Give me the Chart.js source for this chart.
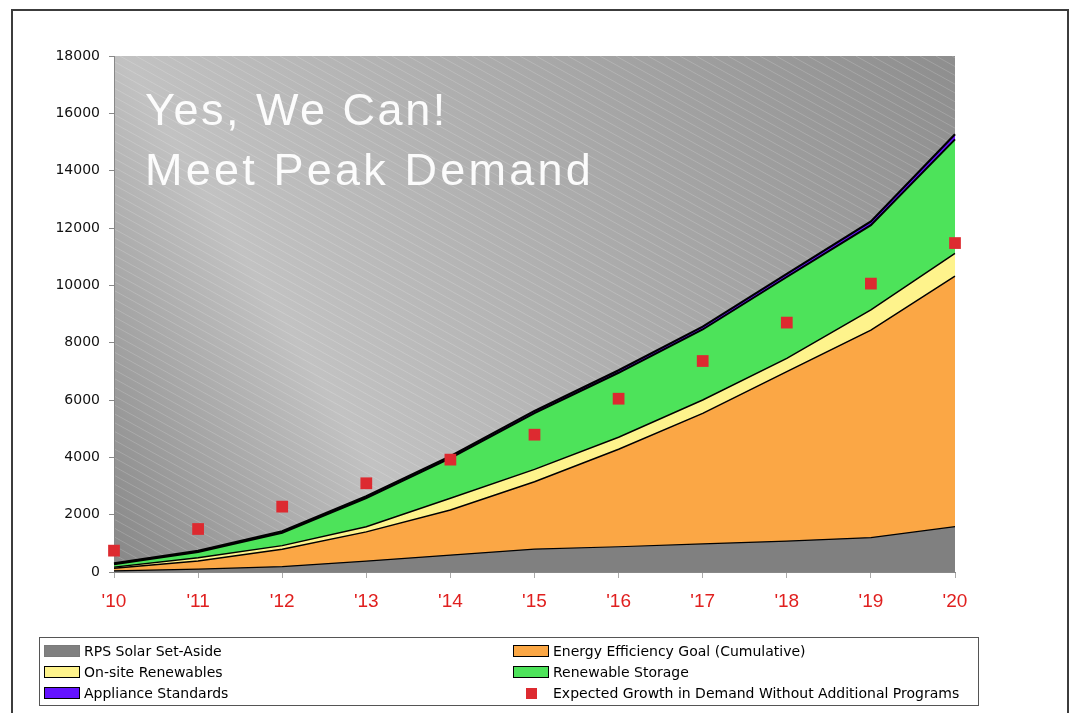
<!DOCTYPE html>
<html>
<head>
<meta charset="utf-8">
<script src="https://cdn.jsdelivr.net/npm/chart.js@4"></script>
<style>
  body { margin: 0; background: #fff; }
  #wrap { position: relative; width: 1070px; height: 713px; overflow: hidden; }
  #frame { position: absolute; left: 11px; top: 9px; width: 1058px; height: 730px; border: 2px solid #3c3c3c; box-sizing: border-box; }
  #chart { position: absolute; left: 0; top: 0; }
  #legend {
    position: absolute; left: 39px; top: 637px; width: 940px; height: 69px;
    border: 1px solid #555; box-sizing: border-box; padding-top: 2px;
    display: grid; grid-template-columns: 469px 1fr; grid-auto-rows: 21.3px;
    font: 14px "DejaVu Sans", sans-serif; color: #000;
  }
  .item { display: flex; align-items: center; padding-left: 4px; white-space: nowrap; }
  .swatch { width: 36px; height: 12px; box-sizing: border-box; border: 1px solid #000; margin-right: 4px; flex: none; }
  .dot { width: 36px; height: 12px; margin-right: 4px; flex: none; display: flex; justify-content: center; align-items: center; }
  .dot span { width: 11px; height: 11px; display: block; }
</style>
</head>
<body>
<div id="wrap">
  <div id="frame"></div>
  <canvas id="chart" width="1070" height="713"></canvas>
  <div id="legend"></div>
</div>
<script>
// Data (MW, stacked layers)
const years = ["'10", "'11", "'12", "'13", "'14", "'15", "'16", "'17", "'18", "'19", "'20"];
const rpsSolar = [40, 100, 190, 380, 590, 800, 880, 980, 1080, 1200, 1580];
const energyEfficiency = [90, 280, 600, 1020, 1570, 2350, 3400, 4555, 5910, 7240, 8740];
const onsiteRenewables = [40, 120, 130, 180, 410, 430, 420, 465, 460, 700, 795];
const renewableStorage = [100, 200, 450, 1000, 1400, 1960, 2250, 2460, 2840, 2960, 3975];
const applianceStandards = [30, 40, 50, 60, 70, 80, 90, 100, 110, 130, 180];
const expectedGrowth = [745, 1500, 2280, 3095, 3920, 4790, 6045, 7360, 8700, 10060, 11475];

const yTicks = { min: 0, max: 18000, step: 2000 };

// Plot backdrop: diagonal grey gradient with thin white hatching, plus the slogan
const backdrop = {
  id: 'backdrop',
  beforeDraw(chart) {
    const { ctx, chartArea: a } = chart;
    const w = a.right - a.left;
    const h = a.bottom - a.top;
    ctx.save();
    const g = ctx.createLinearGradient(a.left, a.bottom, a.right, a.top);
    g.addColorStop(0, '#868686');
    g.addColorStop(0.28, '#c2c2c2');
    g.addColorStop(1, '#8e8e8e');
    ctx.fillStyle = g;
    ctx.fillRect(a.left, a.top, w, h);

    ctx.beginPath();
    ctx.rect(a.left, a.top, w, h);
    ctx.clip();
    ctx.beginPath();
    const run = h / 0.55;
    for (let x = a.left - run; x < a.right; x += 16) {
      ctx.moveTo(x, a.top);
      ctx.lineTo(x + run, a.bottom);
    }
    ctx.strokeStyle = 'rgba(255, 255, 255, 0.22)';
    ctx.lineWidth = 0.8;
    ctx.stroke();
    ctx.restore();
  },
  beforeDatasetsDraw(chart) {
    const { ctx, chartArea: a } = chart;
    ctx.save();
    ctx.font = '45px "Liberation Sans", Arial, sans-serif';
    ctx.fillStyle = 'rgba(255, 255, 255, 0.95)';
    ctx.textBaseline = 'alphabetic';
    ctx.letterSpacing = '2.5px';
    ctx.fillText('Yes, We Can!', a.left + 31, a.top + 69);
    ctx.letterSpacing = '3.2px';
    ctx.fillText('Meet Peak Demand', a.left + 31, a.top + 129);
    ctx.restore();
  }
};

const areaBase = {
  borderColor: '#000',
  borderWidth: 1.5,
  pointRadius: 0,
  tension: 0,
  fill: '-1',
  order: 1
};

const ctx = document.getElementById('chart').getContext('2d');
const chart = new Chart(ctx, {
  type: 'line',
  data: {
    labels: years,
    datasets: [
      { ...areaBase, label: 'RPS Solar Set-Aside', data: rpsSolar, backgroundColor: '#808080', borderWidth: 1.2, fill: 'origin' },
      { ...areaBase, label: 'Energy Efficiency Goal (Cumulative)', data: energyEfficiency, backgroundColor: '#fba745' },
      { ...areaBase, label: 'On-site Renewables', data: onsiteRenewables, backgroundColor: '#fef38c' },
      { ...areaBase, label: 'Renewable Storage', data: renewableStorage, backgroundColor: '#4de35a', borderWidth: 2 },
      { ...areaBase, label: 'Appliance Standards', data: applianceStandards, backgroundColor: '#6412ff', borderWidth: 2.2 },
      {
        label: 'Expected Growth in Demand Without Additional Programs',
        data: expectedGrowth,
        stack: 'demand',
        order: 0,
        showLine: false,
        pointStyle: 'rect',
        pointRadius: 8.3,
        pointBorderWidth: 0,
        backgroundColor: '#dd2a30',
        borderColor: '#dd2a30',
        clip: false
      }
    ]
  },
  options: {
    responsive: false,
    animation: false,
    layout: { padding: { top: 56, right: 115, bottom: 83, left: 0 } },
    plugins: {
      legend: { display: false },
      tooltip: { enabled: false }
    },
    scales: {
      x: {
        offset: false,
        grid: { drawOnChartArea: false, color: '#aaaaaa', tickLength: 6 },
        border: { color: '#888888' },
        ticks: {
          color: '#e0201f',
          font: { family: 'Liberation Sans', size: 19 },
          padding: 12,
          maxRotation: 0,
          autoSkip: false
        },
        afterFit: s => { s.height = 58; }
      },
      y: {
        stacked: true,
        min: yTicks.min,
        max: yTicks.max,
        grid: { drawOnChartArea: false, color: '#888888', tickLength: 5 },
        border: { color: '#888888' },
        ticks: {
          stepSize: yTicks.step,
          color: '#111',
          font: { family: 'DejaVu Sans', size: 14 },
          padding: 9,
          callback: v => v
        },
        afterFit: s => { s.width = 114; }
      }
    }
  },
  plugins: [backdrop]
});

// HTML legend built from the datasets, two columns like the original
const legend = document.getElementById('legend');
chart.data.datasets.forEach(ds => {
  const item = document.createElement('div');
  item.className = 'item';
  if (ds.showLine === false) {
    item.innerHTML = '<div class="dot"><span style="background:' + ds.backgroundColor + '"></span></div>';
  } else {
    const edge = ds.backgroundColor === '#808080' ? '#7a7a7a' : '#000';
    item.innerHTML = '<div class="swatch" style="background:' + ds.backgroundColor + ';border-color:' + edge + '"></div>';
  }
  item.appendChild(document.createTextNode(ds.label));
  legend.appendChild(item);
});
</script>
</body>
</html>
